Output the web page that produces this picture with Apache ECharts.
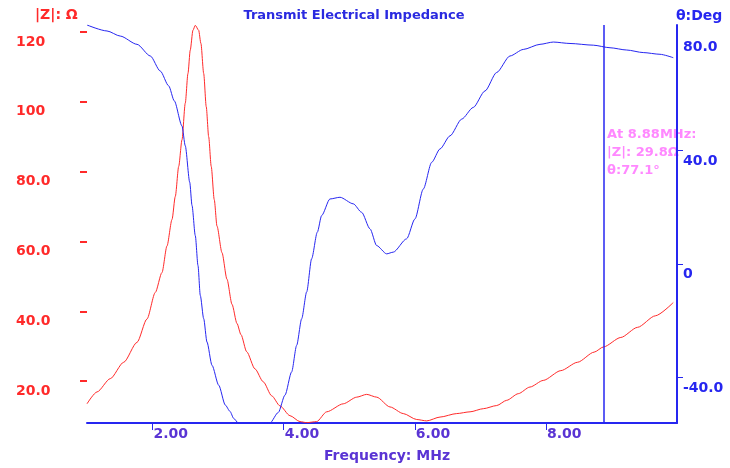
<!DOCTYPE html>
<html>
<head>
<meta charset="utf-8">
<script src="https://cdn.jsdelivr.net/npm/echarts@6/dist/echarts.min.js"></script>
<style>
html,body{margin:0;padding:0;background:#fff;}
#chart{width:730px;height:468px;}
</style>
</head>
<body>
<div id="chart"></div>
<script>
// ---- data ----
const impFreq = [1.00,1.153,1.355,1.560,1.763,1.915,2.042,2.144,2.220,2.297,2.347,2.399,2.449,2.499,2.540,2.575,2.616,2.652,2.703,2.738,2.780,2.819,2.856,2.895,2.941,2.983,3.059,3.135,3.212,3.288,3.349,3.436,3.562,3.689,3.817,3.944,4.096,4.249,4.351,4.503,4.656,4.909,5.114,5.266,5.419,5.622,5.825,6.029,6.182,6.385,6.640,6.843,7.046,7.250,7.402,7.579,7.757,7.960,8.228,8.483,8.736,8.880,9.143,9.398,9.669,9.943];
const impedance = [13.5,16.9,20.7,25.4,31.1,37.8,45.4,51.1,58.7,66.3,72.9,81.5,89.1,99.6,108.1,114.8,120.5,121.9,120.5,116.7,108.1,98.6,90.0,81.5,72.0,64.4,56.8,49.2,42.0,36.5,33.3,28.4,23.5,19.8,15.8,12.9,10.1,8.4,8.1,8.4,11.2,13.5,15.4,16.2,15.4,12.6,10.7,9.0,8.6,9.7,10.7,11.2,12.1,13.0,14.5,16.4,18.3,20.2,23.0,25.4,28.3,29.8,32.5,35.4,38.7,42.5];

const phaseFreq = [1.00,1.305,1.508,1.763,1.966,2.118,2.246,2.332,2.449,2.499,2.567,2.602,2.652,2.693,2.728,2.780,2.830,2.907,3.009,3.110,3.181,3.238,3.308,3.639,3.791,3.918,4.020,4.122,4.198,4.275,4.351,4.427,4.513,4.580,4.706,4.859,5.062,5.190,5.317,5.419,5.571,5.672,5.876,6.003,6.130,6.258,6.385,6.537,6.716,6.892,7.071,7.249,7.452,7.655,7.910,8.113,8.368,8.723,8.978,9.233,9.485,9.740,9.943];
const phase = [84.0,81.9,80.1,77.2,73.1,67.8,62.6,57.3,48.5,41.5,28.7,20.5,9.9,-0.6,-11.1,-19.3,-27.5,-35.7,-42.7,-49.7,-51.9,-54.4,-56.0,-56.0,-56.0,-52.3,-46.2,-38.0,-28.7,-19.3,-9.9,1.8,11.1,17.0,22.8,23.4,21.1,18.1,12.3,6.4,3.5,4.1,8.8,15.8,26.3,35.7,40.4,45.0,50.9,55.0,60.8,67.3,73.1,75.4,77.2,78.0,77.5,76.9,76.0,75.2,74.3,73.7,72.5];

const freqTicks = [2, 4, 6, 8];
const impTicks = [20, 40, 60, 80, 100, 120];
const phaseTicks = [-40, 0, 40, 80];
const phaseTickMarks = [-40, 0, 40];
const cursorFreq = 8.88;
const cursorText = ['At 8.88MHz:', '|Z|: 29.8\u03A9', '\u03B8:77.1\u00B0'];

const RED = '#ff2a2a';
const BLUE = '#2626f0';
const PURPLE = '#5a34d4';
const FONT = '"DejaVu Sans", Verdana, sans-serif';

const chart = echarts.init(document.getElementById('chart'), null, {renderer: 'canvas'});

const option = {
  animation: false,
  backgroundColor: '#ffffff',
  grid: {left: 87, right: 53, top: 25, bottom: 44, containLabel: false},
  xAxis: {
    type: 'value', min: 1, max: 10,
    axisLine: {show: true, onZero: false, lineStyle: {color: BLUE, width: 2}},
    axisTick: {show: true, customValues: freqTicks, length: 7, lineStyle: {color: BLUE, width: 1}},
    axisLabel: {customValues: freqTicks, formatter: v => v.toFixed(2), align: 'left', margin: 4,
      padding: [0, 0, 0, 1], color: PURPLE, fontSize: 14, fontWeight: 'bold', fontFamily: FONT},
    splitLine: {show: false},
    name: 'Frequency: MHz', nameLocation: 'middle', nameGap: 26,
    nameTextStyle: {color: PURPLE, fontSize: 14, fontWeight: 'bold', fontFamily: FONT, padding: [0, 0, 0, 10]}
  },
  yAxis: [
    {
      type: 'value', min: 8, max: 122, position: 'left',
      axisLine: {show: false},
      axisTick: {show: true, customValues: impTicks, length: 7, lineStyle: {color: RED, width: 2}},
      axisLabel: {customValues: impTicks, formatter: v => v >= 100 ? String(v) : v.toFixed(1),
        align: 'left', margin: 71, verticalAlign: 'top', padding: [3, 0, 0, 0],
        color: RED, fontSize: 14, fontWeight: 'bold', fontFamily: FONT},
      splitLine: {show: false}
    },
    {
      type: 'value', min: -56, max: 84, position: 'right',
      axisLine: {show: true, onZero: false, lineStyle: {color: BLUE, width: 2}},
      axisTick: {show: true, customValues: phaseTickMarks, length: 6, lineStyle: {color: BLUE, width: 1}},
      axisLabel: {customValues: phaseTicks, formatter: v => v === 0 ? '0' : v.toFixed(1),
        margin: 6, verticalAlign: 'top', padding: [4, 0, 0, 0],
        color: BLUE, fontSize: 14, fontWeight: 'bold', fontFamily: FONT},
      splitLine: {show: false}
    }
  ],
  series: [
    {
      name: '|Z|', type: 'line', yAxisIndex: 0, showSymbol: false, symbol: 'none',
      smooth: 0.25, smoothMonotone: 'x',
      lineStyle: {color: RED, width: 1}, itemStyle: {color: RED},
      data: impFreq.map((f, i) => [f, impedance[i]]),
      z: 3
    },
    {
      name: 'theta', type: 'line', yAxisIndex: 1, showSymbol: false, symbol: 'none',
      smooth: 0.25, smoothMonotone: 'x',
      lineStyle: {color: BLUE, width: 1}, itemStyle: {color: BLUE},
      data: phaseFreq.map((f, i) => [f, phase[i]]),
      markLine: {
        silent: true, symbol: ['none', 'none'], label: {show: false},
        lineStyle: {color: BLUE, width: 1.5, type: 'solid'},
        data: [{xAxis: cursorFreq}]
      },
      z: 3
    }
  ],
  graphic: [
    {type: 'text', x: 354, y: 16, z: 10,
      style: {text: 'Transmit Electrical Impedance', fill: '#2a2ae0', font: 'bold 13px ' + FONT,
        textAlign: 'center', textVerticalAlign: 'middle'}},
    {type: 'text', x: 35, y: 15,
      style: {text: '|Z|: \u03A9', fill: RED, font: 'bold 14px ' + FONT, textAlign: 'left', textVerticalAlign: 'middle'}},
    {type: 'text', x: 676, y: 16,
      style: {text: '\u03B8:Deg', fill: BLUE, font: 'bold 14px ' + FONT, textAlign: 'left', textVerticalAlign: 'middle'}},
    {type: 'text', left: 607, top: 126, z: -1,
      style: {text: cursorText.join('\n'), fill: '#ff88ff', font: 'bold 13px ' + FONT, lineHeight: 18}}
  ]
};
chart.setOption(option);
</script>
</body>
</html>
